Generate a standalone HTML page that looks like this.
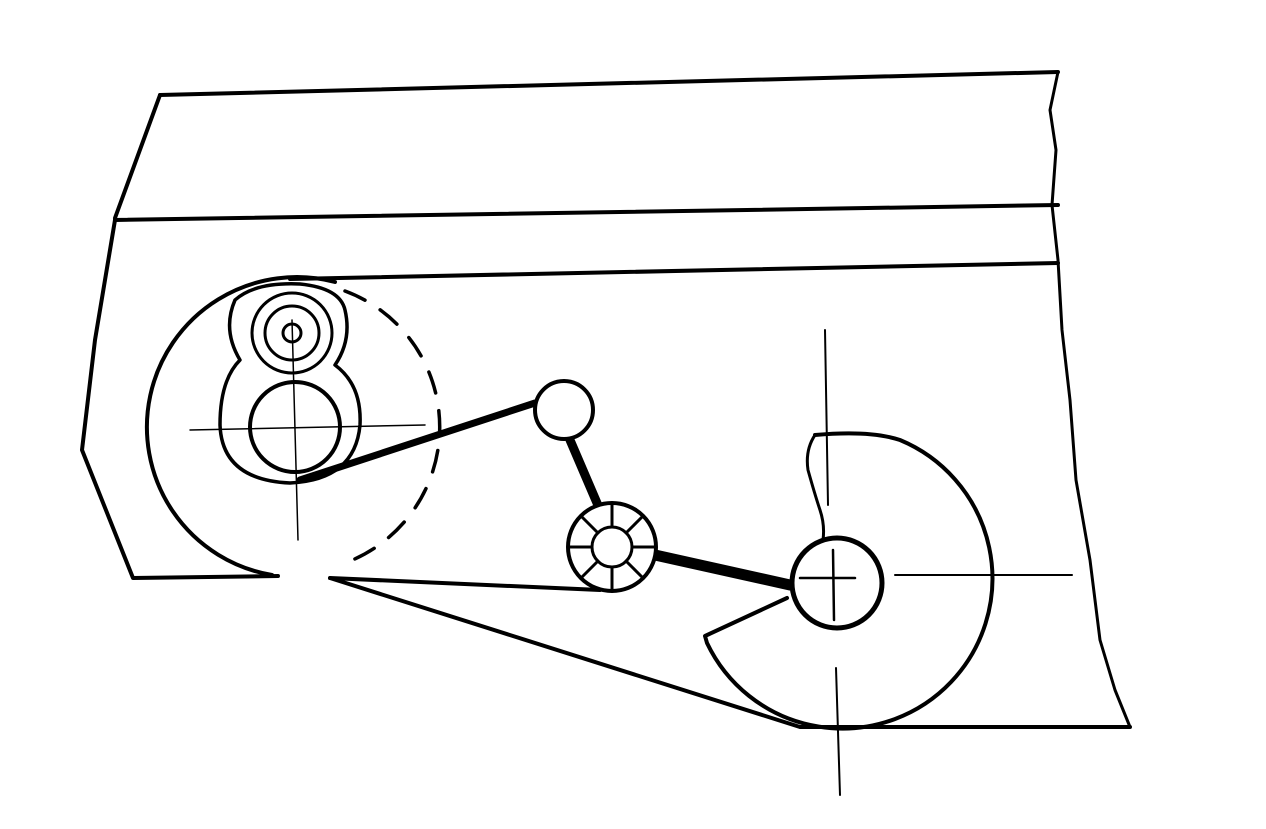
<!DOCTYPE html>
<html><head><meta charset="utf-8"><style>html,body{margin:0;padding:0;background:#fff}svg{display:block}</style></head>
<body>
<svg width="1266" height="829" viewBox="0 0 1266 829" xmlns="http://www.w3.org/2000/svg" fill="none" stroke="#000" stroke-linecap="round" stroke-linejoin="round">
<!-- frame -->
<path d="M160 95 L1058 72" stroke-width="4"/>
<path d="M160 95 L115 218" stroke-width="4"/>
<path d="M115 220 L1058 205" stroke-width="4"/>
<path d="M290 279 L1058 263" stroke-width="4"/>
<path d="M1058 72 L1050 110 L1056 150 L1052 205 L1058 260 L1062 330 L1070 400 L1076 480 L1090 560 L1100 640 L1115 690 L1130 727" stroke-width="3"/>
<path d="M115 220 L95 340 L82 450 L133 578 L278 576" stroke-width="4"/>
<!-- left big circle -->
<path d="M272 575 A150 150 0 1 1 335 282" stroke-width="4"/>
<path d="M345 291 A145 145 0 0 1 345 563" stroke-width="3.5" stroke-dasharray="22 18"/>
<!-- figure 8 -->
<path d="M240 360 Q222 330 235 300 Q255 282 300 284 Q340 288 345 310 Q352 340 335 365 Q362 385 360 425 Q355 480 290 483 Q222 480 220 425 Q220 380 240 360 Z" fill="#fff" stroke-width="3.5"/>
<circle cx="292" cy="333" r="40" fill="#fff" stroke-width="3"/>
<circle cx="292" cy="333" r="27" stroke-width="3"/>
<circle cx="292" cy="333" r="9" stroke-width="3"/>
<circle cx="295" cy="427" r="45" fill="#fff" stroke-width="4"/>
<path d="M190 430 L425 425" stroke-width="1.5"/>
<path d="M292 320 L298 540" stroke-width="1.5"/>
<!-- links -->
<path d="M300 480 L535 403" stroke-width="7"/>
<path d="M330 578 L600 590" stroke-width="4"/>
<path d="M330 578 L800 727 L1130 727" stroke-width="4"/>
<path d="M570 440 L600 510" stroke-width="9"/>
<path d="M655 555 L790 585" stroke-width="11"/>
<circle cx="564" cy="410" r="29" fill="#fff" stroke-width="4"/>
<circle cx="612" cy="547" r="44" fill="#fff" stroke-width="4"/>
<circle cx="612" cy="547" r="20" stroke-width="3"/>
<g stroke-width="3">
<path d="M612 527 L612 503"/><path d="M626 533 L643 516"/><path d="M632 547 L656 547"/><path d="M626 561 L643 578"/><path d="M612 567 L612 591"/><path d="M598 561 L581 578"/><path d="M592 547 L568 547"/><path d="M598 533 L581 516"/>
</g>
<!-- right disc -->
<path d="M815 435 Q870 430 900 440 A150 150 0 1 1 707 643 L705 636 L787 598" stroke-width="4"/>
<path d="M815 435 Q805 450 808 470 Q815 495 820 510 Q825 525 823 540" stroke-width="3"/>
<circle cx="837" cy="583" r="45" fill="#fff" stroke-width="5"/>
<path d="M825 330 L828 505" stroke-width="2"/>
<path d="M833 550 L834 620" stroke-width="2.5"/>
<path d="M800 578 L855 578" stroke-width="2.5"/>
<path d="M895 575 L1072 575" stroke-width="2"/>
<path d="M836 668 L840 795" stroke-width="2"/>
</svg>
</body></html>
